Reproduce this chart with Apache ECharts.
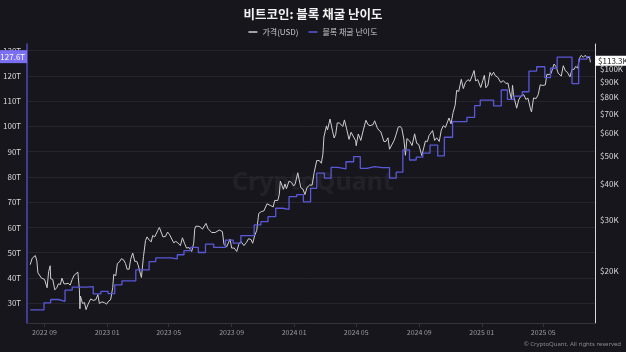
<!DOCTYPE html>
<html>
<head>
<meta charset="utf-8">
<script src="https://cdn.jsdelivr.net/npm/echarts@6/dist/echarts.min.js"></script>
<style>
  html, body { margin: 0; padding: 0; background: #17161d; }
  #chart { width: 626px; height: 352px; }
</style>
</head>
<body>
<div id="chart"></div>
<script>
// 차트 데이터
var titleText = '비트코인: 블록 채굴 난이도';
var priceName = '가격(USD)';
var diffName = '블록 채굴 난이도';

// x축 눈금 (4개월 간격)
var monthTicks = ['2022-09-01', '2023-01-01', '2023-05-01', '2023-09-01', '2024-01-01',
  '2024-05-01', '2024-09-01', '2025-01-01', '2025-05-01'];
// 왼쪽 축 눈금 (T)
var diffTicks = [30, 40, 50, 60, 70, 80, 90, 100, 110, 120, 130];
// 오른쪽 축 눈금 (USD, 천 단위)
var priceTicks = [20, 30, 40, 50, 60, 70, 80, 90, 100];

// 난이도 조정 시점과 값 (T)
var diffDates = ['2022-08-04', '2022-08-31', '2022-09-13', '2022-09-28', '2022-10-11', '2022-10-25',
  '2022-11-08', '2022-11-21', '2022-12-05', '2022-12-20', '2023-01-03', '2023-01-16', '2023-01-30',
  '2023-02-12', '2023-02-26', '2023-03-11', '2023-03-24', '2023-04-06', '2023-04-21', '2023-05-05',
  '2023-05-18', '2023-05-31', '2023-06-13', '2023-06-28', '2023-07-12', '2023-07-28', '2023-08-10',
  '2023-08-20', '2023-09-04', '2023-09-19', '2023-10-03', '2023-10-15', '2023-10-28', '2023-11-11',
  '2023-11-26', '2023-12-09', '2023-12-22', '2024-01-06', '2024-01-19', '2024-02-02', '2024-02-14',
  '2024-02-29', '2024-03-13', '2024-03-26', '2024-04-11', '2024-04-26', '2024-05-09', '2024-05-22',
  '2024-06-06', '2024-06-20', '2024-07-05', '2024-07-18', '2024-07-31', '2024-08-13', '2024-08-26',
  '2024-09-08', '2024-09-22', '2024-10-07', '2024-10-20', '2024-11-05', '2024-11-19', '2024-12-03',
  '2024-12-18', '2024-12-29', '2025-01-12', '2025-01-24', '2025-02-08', '2025-02-20', '2025-03-05',
  '2025-03-21', '2025-04-03', '2025-04-18', '2025-05-04', '2025-05-15', '2025-05-28', '2025-06-12',
  '2025-06-26', '2025-07-09', '2025-07-25', '2025-08-01'];
var diffValues = [27.4, 30.2, 31.5, 30.8, 35.2, 36.4,
  36.4, 36.6, 33.7, 34.7, 33.8, 37.3, 38.9,
  38.9, 43.2, 43.2, 46.5, 48.0, 48.0, 47.6,
  49.2, 50.8, 52.1, 50.1, 53.4, 52.1, 52.1,
  55.0, 53.8, 56.8, 56.8, 61.0, 62.3, 64.3,
  67.6, 67.2, 72.2, 73.0, 70.1, 75.5, 81.5,
  79.5, 83.8, 83.2, 86.0, 88.0, 83.4, 84.1,
  83.7, 83.7, 79.5, 81.9, 90.7, 86.7, 87.8,
  89.4, 92.6, 88.3, 95.7, 101.9, 101.9, 103.6,
  108.2, 110.4, 110.4, 108.1, 114.4, 110.7, 112.0,
  113.7, 121.9, 123.6, 119.3, 123.0, 127.4, 127.4,
  116.9, 126.6, 127.6, 127.6];

// 가격 (천 달러)
var priceDates = ['2022-08-04', '2022-08-08', '2022-08-11', '2022-08-14', '2022-08-17', '2022-08-19',
  '2022-08-22', '2022-08-26', '2022-08-29', '2022-09-01', '2022-09-06', '2022-09-09', '2022-09-12',
  '2022-09-13', '2022-09-17', '2022-09-21', '2022-09-25', '2022-09-28', '2022-10-02', '2022-10-05',
  '2022-10-09', '2022-10-13', '2022-10-17', '2022-10-21', '2022-10-25', '2022-10-29', '2022-11-01',
  '2022-11-05', '2022-11-08', '2022-11-09', '2022-11-10', '2022-11-14', '2022-11-18', '2022-11-21',
  '2022-11-25', '2022-11-30', '2022-12-05', '2022-12-10', '2022-12-14', '2022-12-17', '2022-12-22',
  '2022-12-27', '2022-12-31',
  '2023-01-04', '2023-01-08', '2023-01-12', '2023-01-14', '2023-01-18', '2023-01-21', '2023-01-25',
  '2023-01-29', '2023-02-02', '2023-02-06', '2023-02-09', '2023-02-13', '2023-02-16', '2023-02-20',
  '2023-02-24', '2023-02-28', '2023-03-03', '2023-03-09', '2023-03-10', '2023-03-13', '2023-03-17',
  '2023-03-20', '2023-03-24', '2023-03-28', '2023-03-31', '2023-04-04', '2023-04-10', '2023-04-13',
  '2023-04-16', '2023-04-20', '2023-04-25', '2023-04-29', '2023-05-03', '2023-05-06', '2023-05-11',
  '2023-05-15', '2023-05-19', '2023-05-24', '2023-05-28', '2023-06-01', '2023-06-05', '2023-06-10',
  '2023-06-15', '2023-06-19', '2023-06-21', '2023-06-23', '2023-06-27', '2023-07-01', '2023-07-06',
  '2023-07-13', '2023-07-17', '2023-07-24', '2023-07-31', '2023-08-08', '2023-08-14', '2023-08-17',
  '2023-08-22', '2023-08-29', '2023-09-01', '2023-09-06', '2023-09-11', '2023-09-15', '2023-09-19',
  '2023-09-25', '2023-09-30', '2023-10-04', '2023-10-09', '2023-10-12', '2023-10-16', '2023-10-20',
  '2023-10-23', '2023-10-24', '2023-10-29', '2023-11-03', '2023-11-09', '2023-11-12', '2023-11-16',
  '2023-11-21', '2023-11-24', '2023-11-30', '2023-12-03', '2023-12-05', '2023-12-08', '2023-12-11',
  '2023-12-14', '2023-12-17', '2023-12-22', '2023-12-27', '2023-12-31',
  '2024-01-03', '2024-01-08', '2024-01-11', '2024-01-14', '2024-01-18', '2024-01-22', '2024-01-26',
  '2024-01-31', '2024-02-05', '2024-02-09', '2024-02-14', '2024-02-19', '2024-02-23', '2024-02-26',
  '2024-02-28', '2024-03-04', '2024-03-06', '2024-03-11', '2024-03-13', '2024-03-16', '2024-03-19',
  '2024-03-22', '2024-03-25', '2024-03-29', '2024-04-01', '2024-04-05', '2024-04-08', '2024-04-12',
  '2024-04-17', '2024-04-21', '2024-04-24', '2024-04-30', '2024-05-01', '2024-05-05', '2024-05-10',
  '2024-05-15', '2024-05-20', '2024-05-24', '2024-05-28', '2024-06-03', '2024-06-06', '2024-06-11',
  '2024-06-14', '2024-06-18', '2024-06-24', '2024-06-28', '2024-07-02', '2024-07-05', '2024-07-08',
  '2024-07-14', '2024-07-18', '2024-07-22', '2024-07-26', '2024-07-29', '2024-08-02', '2024-08-05',
  '2024-08-08', '2024-08-13', '2024-08-18', '2024-08-23', '2024-08-27', '2024-08-31', '2024-09-06',
  '2024-09-10', '2024-09-13', '2024-09-17', '2024-09-20', '2024-09-27', '2024-10-01', '2024-10-05',
  '2024-10-10', '2024-10-14', '2024-10-18', '2024-10-22', '2024-10-25', '2024-10-29', '2024-11-02',
  '2024-11-05', '2024-11-06', '2024-11-10', '2024-11-13', '2024-11-17', '2024-11-22', '2024-11-26',
  '2024-11-30', '2024-12-05', '2024-12-09', '2024-12-13', '2024-12-17', '2024-12-20', '2024-12-24',
  '2024-12-30',
  '2025-01-03', '2025-01-06', '2025-01-09', '2025-01-13', '2025-01-17', '2025-01-20', '2025-01-24',
  '2025-01-27', '2025-02-01', '2025-02-03', '2025-02-07', '2025-02-12', '2025-02-17', '2025-02-21',
  '2025-02-25', '2025-02-28', '2025-03-02', '2025-03-04', '2025-03-10', '2025-03-14', '2025-03-19',
  '2025-03-24', '2025-03-28', '2025-04-01', '2025-04-06', '2025-04-08', '2025-04-12', '2025-04-17',
  '2025-04-21', '2025-04-25', '2025-04-30', '2025-05-05', '2025-05-08', '2025-05-12', '2025-05-16',
  '2025-05-22', '2025-05-26', '2025-05-30', '2025-06-05', '2025-06-09', '2025-06-13', '2025-06-17',
  '2025-06-22', '2025-06-26', '2025-06-30', '2025-07-03', '2025-07-07', '2025-07-11', '2025-07-14',
  '2025-07-18', '2025-07-22', '2025-07-25', '2025-07-28', '2025-07-30', '2025-08-01'];
var priceK = [22.6, 23.8, 23.9, 24.3, 23.3, 21.2,
  21.4, 20.3, 20.3, 20.1, 18.8, 21.4, 22.4,
  20.2, 20.1, 18.5, 18.8, 19.4, 19.3, 20.3,
  19.4, 19.4, 19.5, 19.2, 20.1, 20.8, 20.5,
  21.3, 18.5, 15.9, 17.6, 16.6, 16.7, 15.8,
  16.5, 17.2, 17.0, 17.1, 17.8, 16.6, 16.8,
  16.7, 16.5,
  16.9, 17.1, 18.8, 20.9, 20.7, 22.8, 23.1,
  23.7, 23.5, 22.8, 21.8, 21.8, 23.6, 24.8,
  23.2, 23.2, 22.4, 20.4, 20.2, 24.1, 27.4,
  28.2, 27.5, 27.1, 28.5, 28.2, 29.7, 30.4,
  30.3, 28.2, 28.3, 29.3, 28.7, 28.9, 26.9,
  27.2, 26.9, 26.3, 28.0, 26.8, 25.8, 25.9,
  25.1, 26.8, 30.0, 30.7, 30.7, 30.6, 30.0,
  31.4, 30.1, 29.2, 29.2, 29.8, 29.4, 26.6,
  26.0, 27.7, 25.8, 25.8, 25.1, 26.6, 27.2,
  26.3, 27.0, 27.8, 27.6, 26.8, 28.5, 29.7,
  33.0, 34.0, 34.5, 34.7, 36.7, 37.0, 36.2,
  35.8, 37.7, 37.7, 39.5, 44.0, 44.2, 41.2,
  43.0, 41.4, 44.0, 43.5, 42.3,
  43.0, 47.0, 46.4, 41.7, 41.3, 39.5, 41.8,
  42.6, 42.6, 47.1, 51.8, 51.8, 50.7, 54.5,
  62.5, 68.3, 66.1, 72.1, 73.1, 65.3, 62.0,
  63.8, 69.9, 69.9, 69.7, 68.0, 71.6, 67.1,
  61.3, 64.9, 64.3, 60.6, 58.3, 64.0, 60.8,
  66.2, 71.4, 69.0, 68.4, 69.0, 71.1, 67.3,
  66.0, 65.2, 60.3, 60.3, 62.1, 56.7, 56.0,
  60.8, 63.9, 67.6, 68.0, 66.8, 61.4, 54.0,
  61.7, 60.6, 58.4, 64.1, 59.4, 58.9, 53.9,
  57.6, 60.5, 60.3, 63.2, 65.8, 60.8, 62.1,
  60.3, 66.0, 68.4, 67.4, 66.6, 72.7, 69.4,
  69.4, 75.9, 80.4, 90.6, 89.8, 98.9, 91.9,
  96.4, 98.7, 97.4, 101.5, 106.1, 97.7, 98.7,
  92.7,
  98.1, 102.1, 92.5, 94.5, 104.5, 102.0, 104.7,
  102.0, 100.6, 101.4, 96.5, 97.9, 95.7, 96.1,
  88.7, 84.4, 94.3, 87.2, 78.6, 84.0, 86.9,
  87.5, 84.3, 85.2, 78.2, 76.3, 85.3, 84.9,
  87.5, 94.7, 94.2, 94.7, 103.0, 102.8, 103.5,
  111.7, 109.4, 103.9, 101.5, 110.3, 105.9, 104.6,
  100.9, 107.1, 107.1, 109.6, 108.2, 117.5, 119.8,
  117.9, 119.9, 117.6, 118.0, 117.8, 113.3];

// 날짜 문자열 -> 타임스탬프 (UTC)
function toTime(d) { return Date.parse(d); }

var priceSeriesData = priceDates.map(function (d, i) { return [toTime(d), priceK[i]]; });
var diffSeriesData = diffDates.map(function (d, i) { return [toTime(d), diffValues[i]]; });
var lastPrice = priceK[priceK.length - 1];
var lastDiff = diffValues[diffValues.length - 1];

var chart = echarts.init(document.getElementById('chart'), null, { renderer: 'canvas' });

var option = {
  backgroundColor: '#17161d',
  animation: false,
  textStyle: { fontFamily: 'Noto Sans CJK KR' },
  title: {
    text: titleText,
    left: 'center',
    top: 3,
    textStyle: { color: '#f2f2f2', fontSize: 12.5, fontWeight: 'bold', fontFamily: 'Noto Sans CJK KR' }
  },
  legend: {
    top: 23,
    left: 'center',
    icon: 'rect',
    itemWidth: 9,
    itemHeight: 1.5,
    itemGap: 10,
    textStyle: { color: '#c8c8c8', fontSize: 8 },
    data: [priceName, diffName]
  },
  grid: { left: 26, right: 30, top: 44, bottom: 29 },
  xAxis: {
    type: 'value',
    min: toTime('2022-07-29'),
    max: toTime('2025-08-10'),
    axisLine: { lineStyle: { color: '#34333b' } },
    axisTick: { show: true, length: 4, lineStyle: { color: '#34333b' }, customValues: monthTicks.map(toTime) },
    axisLabel: {
      color: '#9a9aa2',
      fontSize: 7,
      margin: 6,
      customValues: monthTicks.map(toTime),
      formatter: function (v) {
        var d = new Date(v);
        return d.getUTCFullYear() + ' ' + String(d.getUTCMonth() + 1).padStart(2, '0');
      }
    },
    splitLine: { show: false }
  },
  yAxis: [{
    type: 'value',
    position: 'left',
    min: 22.2,
    max: 132.6,
    axisLine: { show: true, lineStyle: { color: '#4d4bb8', width: 1.5 } },
    axisTick: { show: false, customValues: diffTicks },
    axisLabel: {
      color: '#d8d8d8',
      fontSize: 8,
      margin: 6,
      hideOverlap: false,
      customValues: diffTicks,
      formatter: function (v) { return v + 'T'; }
    },
    splitLine: { show: true, lineStyle: { color: '#26252d', width: 1 } }
  }, {
    type: 'log',
    logBase: 10,
    position: 'right',
    min: 14.2,
    max: 131.1,
    axisLine: { show: true, lineStyle: { color: '#d8d8d8', width: 1 } },
    axisTick: { show: false, customValues: priceTicks },
    axisLabel: {
      color: '#d8d8d8',
      fontSize: 8,
      margin: 5,
      hideOverlap: false,
      verticalAlign: 'bottom',
      lineHeight: 8,
      padding: [0, 0, 5, 0],
      customValues: priceTicks,
      formatter: function (v) { return '$' + Math.round(v) + 'K'; }
    },
    splitLine: { show: false }
  }],
  graphic: [{
    type: 'text',
    left: 'center',
    top: 170,
    z: 0,
    style: {
      text: 'CryptoQuant',
      fill: 'rgba(255,255,255,0.05)',
      font: 'bold 25px "Noto Sans"'
    }
  }, {
    type: 'text',
    right: 5,
    top: 341,
    style: {
      text: '© CryptoQuant. All rights reserved',
      fill: '#8a8a92',
      font: '6px "Noto Sans"'
    }
  }],
  series: [{
    name: priceName,
    type: 'line',
    yAxisIndex: 1,
    data: priceSeriesData,
    showSymbol: false,
    lineStyle: { color: '#cfcfcf', width: 1 },
    itemStyle: { color: '#cfcfcf' },
    markLine: {
      silent: true,
      symbol: 'none',
      lineStyle: { color: 'rgba(0,0,0,0)', width: 0 },
      label: {
        show: true,
        position: 'end',
        distance: 0,
        offset: [0, -1.5],
        formatter: function () { return '$' + lastPrice.toFixed(1) + 'K'; },
        backgroundColor: '#ffffff',
        color: '#1a1a1a',
        fontSize: 8,
        lineHeight: 9,
        padding: [1, 3, 0, 3]
      },
      data: [{ yAxis: lastPrice }]
    }
  }, {
    name: diffName,
    type: 'line',
    yAxisIndex: 0,
    step: 'end',
    data: diffSeriesData,
    showSymbol: false,
    lineStyle: { color: '#5a58d8', width: 1.3 },
    itemStyle: { color: '#5a58d8' },
    markLine: {
      silent: true,
      symbol: 'none',
      lineStyle: { color: 'rgba(0,0,0,0)', width: 0 },
      label: {
        show: true,
        position: 'start',
        distance: 0,
        formatter: function () { return lastDiff.toFixed(1) + 'T'; },
        backgroundColor: '#7b6ff2',
        color: '#ffffff',
        fontSize: 8,
        padding: [3, 2, 2, 2]
      },
      data: [{ yAxis: lastDiff }]
    }
  }]
};

chart.setOption(option);
</script>
</body>
</html>
